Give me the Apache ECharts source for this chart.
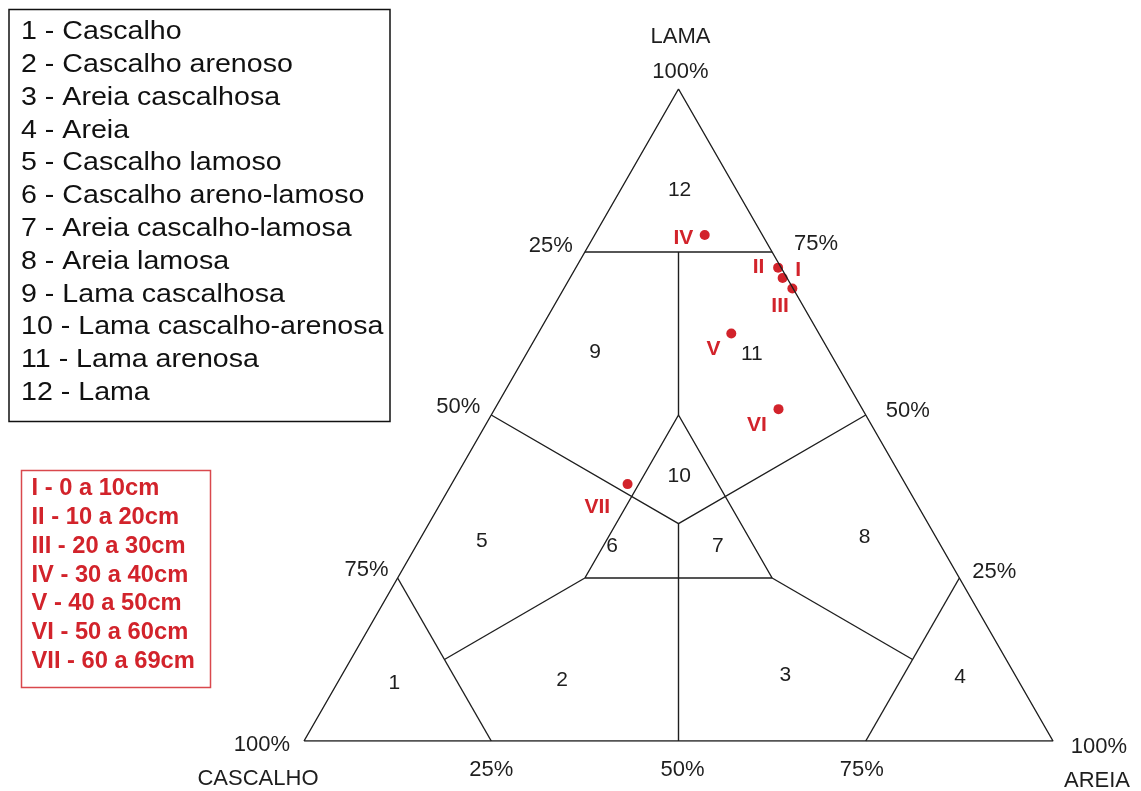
<!DOCTYPE html>
<html><head><meta charset="utf-8">
<script src="https://cdn.jsdelivr.net/npm/echarts@6/dist/echarts.min.js"></script>
<style>html,body{margin:0;padding:0;background:#fff}#c{width:1141px;height:791px}</style>
</head><body><div id="c"></div>
<script>
// ---- DATA ----
const classNames = ['Cascalho','Cascalho arenoso','Areia cascalhosa','Areia','Cascalho lamoso','Cascalho areno-lamoso','Areia cascalho-lamosa','Areia lamosa','Lama cascalhosa','Lama cascalho-arenosa','Lama arenosa','Lama'];
// class number anchor compositions (% gravel, % sand, % mud)
const classGravel = [83.5, 60.9, 30.7, 7.5, 60.9, 43.9, 29.8, 9.5, 31.3, 29.6, 10.5, 7.6];
const classSand   = [7.6, 29.8, 59.2, 82.7, 8.4, 26.2, 40.3, 59.2, 9.0, 29.8, 30.1, 7.9];
const classMud    = [8.9, 9.3, 10.1, 9.8, 30.7, 29.9, 29.9, 31.3, 59.7, 40.6, 59.4, 84.5];

// class boundaries as polylines of [gravel, sand, mud] %
const boundaryLines = [
  [[100,0,0],[0,100,0],[0,0,100],[100,0,0]],
  [[25,0,75],[0,25,75]],
  [[75,0,25],[75,25,0]],
  [[0,75,25],[25,75,0]],
  [[50,25,25],[25,50,25],[25,25,50],[50,25,25]],
  [[12.5,12.5,75],[25,25,50]],
  [[33.33,33.33,33.34],[50,50,0]],
  [[50,0,50],[33.33,33.33,33.34],[0,50,50]],
  [[50,25,25],[75,12.5,12.5]],
  [[25,50,25],[12.5,75,12.5]]
];

// samples
const sampleNames  = ['I','II','III','IV','V','VI','VII'];
const sampleDepths = ['0 a 10cm','10 a 20cm','20 a 30cm','30 a 40cm','40 a 50cm','50 a 60cm','60 a 69cm'];
const sampleGravel = [0.6, 0.4, 0.1, 7.7, 11.7, 11.2, 37.1];
const sampleSand   = [28.4, 27.0, 30.5, 14.7, 25.8, 37.9, 23.5];
const sampleMud    = [71.0, 72.6, 69.4, 77.6, 62.5, 50.9, 39.4];

// tick labels
const leftTickMud    = [75, 50, 25, 0];
const leftTickLabels = ['25%','50%','75%','100%'];      // gravel
const rightTickMud    = [75, 50, 25];
const rightTickLabels = ['75%','50%','25%'];            // mud
const bottomTickSand   = [25, 50, 75, 100];
const bottomTickLabels = ['25%','50%','75%','100%'];    // sand
const topLabel = '100%';
const vertexNames = ['LAMA','CASCALHO','AREIA'];

// ---- BUILD ----
function toXY(g, s, m) { return [s + m / 2, m]; }
const INK = '#1e1e1e';
const RED = '#d2232b';
const FONT = 'Liberation Sans, Arial, sans-serif';

const series = [];
boundaryLines.forEach(pl => {
  series.push({
    type: 'line', silent: true, symbol: 'none', animation: false,
    lineStyle: { color: INK, width: 1.4 },
    data: pl.map(p => toXY(p[0], p[1], p[2]))
  });
});

function textSeries(items, font) {
  return {
    type: 'scatter', silent: true, animation: false, symbolSize: 1,
    itemStyle: { color: 'rgba(0,0,0,0)', opacity: 1 },
    label: Object.assign({ show: true, position: 'inside', align: 'center', verticalAlign: 'middle', color: INK, opacity: 1, fontFamily: FONT }, font),
    data: items
  };
}

// class numbers
series.push(textSeries(classNames.map((n, i) => ({
  value: toXY(classGravel[i], classSand[i], classMud[i]),
  label: { formatter: String(i + 1) }
})), { fontSize: 21 }));

// tick labels
const tickItems = [];
const leftOff = [[-34,-6],[-33,-8],[-31,-8],[-42,4]];
leftTickMud.forEach((m, i) => tickItems.push({ value: toXY(100 - m, 0, m), label: { formatter: leftTickLabels[i], offset: leftOff[i] } }));
const rightOff = [[44,-8],[42,-4],[35,-6]];
rightTickMud.forEach((m, i) => tickItems.push({ value: toXY(0, 100 - m, m), label: { formatter: rightTickLabels[i], offset: rightOff[i] } }));
const botOff = [[0,29],[4,29],[-4,29],[46,6]];
bottomTickSand.forEach((s, i) => tickItems.push({ value: toXY(100 - s, s, 0), label: { formatter: bottomTickLabels[i], offset: botOff[i] } }));
tickItems.push({ value: toXY(0, 0, 100), label: { formatter: topLabel, offset: [2, -17] } });
tickItems.push({ value: toXY(0, 0, 100), label: { formatter: vertexNames[0], offset: [2, -52] } });
tickItems.push({ value: toXY(100, 0, 0), label: { formatter: vertexNames[1], offset: [-46, 38] } });
tickItems.push({ value: toXY(0, 100, 0), label: { formatter: vertexNames[2], offset: [44, 40] } });
series.push(textSeries(tickItems, { fontSize: 22 }));

// samples
const sampleLabelOffsets = [[15.6,-7.7],[-19.6,-0.7],[-12.3,17.7],[-21.3,3.4],[-17.7,15.6],[-21.6,15.7],[-30.3,23.5]];
series.push({
  type: 'scatter', silent: true, animation: false, symbol: 'circle', symbolSize: 10,
  itemStyle: { color: RED, opacity: 1 },
  label: { show: true, position: 'inside', align: 'center', verticalAlign: 'middle', color: RED, opacity: 1, fontWeight: 'bold', fontSize: 21, fontFamily: FONT },
  data: sampleNames.map((n, i) => ({
    value: toXY(sampleGravel[i], sampleSand[i], sampleMud[i]),
    label: { formatter: n, offset: sampleLabelOffsets[i] }
  }))
});

const classLegendText = classNames.map((n, i) => (i + 1) + ' - ' + n).join('\n');
const sampleLegendText = sampleNames.map((n, i) => n + ' - ' + sampleDepths[i]).join('\n');

const chart = echarts.init(document.getElementById('c'), null, { renderer: 'canvas' });
chart.setOption({
  backgroundColor: '#fff',
  animation: false,
  grid: { left: 304, top: 89, width: 749, height: 652, containLabel: false },
  xAxis: { type: 'value', min: 0, max: 100, show: false },
  yAxis: { type: 'value', min: 0, max: 100, show: false },
  series: series,
  graphic: [
    { type: 'rect', shape: { x: 9, y: 9.5, width: 381, height: 412 }, style: { fill: '#fff', stroke: '#111', lineWidth: 1.5 } },
    { type: 'text', x: 21, y: 15.6, scaleX: 1.1, style: { text: classLegendText, fontSize: 26, fontFamily: FONT, fill: '#111', lineHeight: 32.8 } },
    { type: 'rect', shape: { x: 21.5, y: 470.5, width: 189, height: 217 }, style: { fill: '#fff', stroke: '#d9484d', lineWidth: 1.5 } },
    { type: 'text', x: 31.5, y: 474.5, scaleX: 1.03, style: { text: sampleLegendText, fontSize: 23, fontWeight: 'bold', fontFamily: FONT, fill: RED, lineHeight: 28.8 } }
  ]
});
</script>
</body></html>
